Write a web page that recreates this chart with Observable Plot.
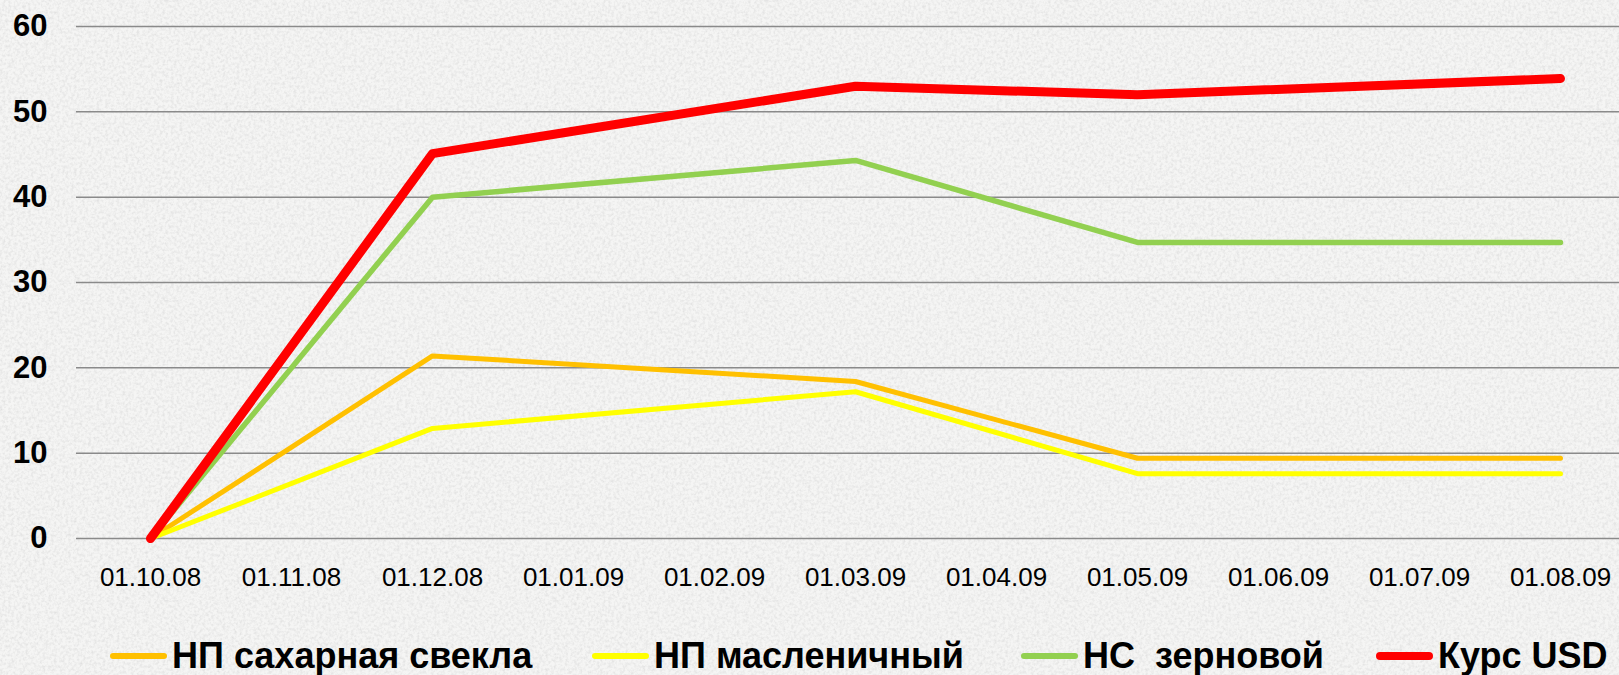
<!DOCTYPE html>
<html>
<head>
<meta charset="utf-8">
<script src="https://cdn.jsdelivr.net/npm/d3@7"></script>
<script src="https://cdn.jsdelivr.net/npm/@observablehq/plot@0.6"></script>
<style>
  html, body { margin: 0; padding: 0; }
  body {
    width: 1619px; height: 675px; overflow: hidden; position: relative;
    background-color: #e9e9e7;
    background-image: url("data:image/svg+xml;utf8,<svg xmlns='http://www.w3.org/2000/svg' width='300' height='300'><filter id='n'><feTurbulence type='fractalNoise' baseFrequency='0.35' numOctaves='3' stitchTiles='stitch'/><feColorMatrix type='matrix' values='0 0 0 0 0.55  0 0 0 0 0.55  0 0 0 0 0.55  0 0 0 1.3 -0.5'/></filter><rect width='300' height='300' fill='white' opacity='0.55'/><rect width='300' height='300' filter='url(%23n)' opacity='0.6'/></svg>");
    font-family: "Liberation Sans", Arial, sans-serif;
  }
  #chart { position: absolute; left: 0; top: 0; }
  #chart svg { background: transparent !important; }
  .legend-item { position: absolute; top: 636px; display: flex; align-items: center; height: 40px; }
  .legend-item .sw { width: 57px; border-radius: 4px; margin-right: 5px; }
  .legend-item span { font-size: 36px; font-weight: bold; color: #000; white-space: pre; line-height: 40px; }
</style>
</head>
<body>
<div id="chart"></div>
<div id="legend"></div>
<script>
// x-axis tick labels (category axis)
const tickLabels = ["01.10.08","01.11.08","01.12.08","01.01.09","01.02.09","01.03.09","01.04.09","01.05.09","01.06.09","01.07.09","01.08.09"];
// dates where values exist
const dates = ["01.10.08","01.12.08","01.03.09","01.05.09","01.08.09"];
// series values
const sugarBeet = [0, 21.4, 18.4, 9.4, 9.4];   // НП сахарная свекла
const oilseed   = [0, 12.9, 17.2, 7.6, 7.6];   // НП масленичный
const grain     = [0, 40.0, 44.3, 34.7, 34.7]; // НС  зерновой
const usd       = [0, 45.1, 53.0, 52.0, 53.9]; // Курс USD
const yTicks = [0, 10, 20, 30, 40, 50, 60];

const seriesNames = ["НП сахарная свекла", "НП масленичный", "НС  зерновой", "Курс USD"];
const seriesValues = [sugarBeet, oilseed, grain, usd];
const seriesColors = ["#FFC000", "#FFFF00", "#92D050", "#FF0000"];
const seriesWidths = [5, 5, 5.5, 9];
const legendLeft = [110, 592, 1021, 1376];

const rows = seriesNames.flatMap((name, i) =>
  dates.map((d, j) => ({series: name, date: d, value: seriesValues[i][j]}))
);

const marks = [
  Plot.ruleY(yTicks, {stroke: "#8a8a8a", strokeWidth: 1.5}),
  Plot.axisY({ticks: yTicks, tickSize: 0, tickPadding: 29, fontSize: 31, fontWeight: "bold", fill: "#000", label: null}),
  Plot.axisX({tickSize: 0, tickPadding: 29, fontSize: 26, fill: "#000", label: null})
];
seriesNames.forEach((name, i) => {
  marks.push(Plot.line(rows.filter(r => r.series === name), {
    x: "date", y: "value",
    stroke: seriesColors[i], strokeWidth: seriesWidths[i],
    strokeLinecap: "round", strokeLinejoin: "round"
  }));
});

const chart = Plot.plot({
  width: 1619,
  height: 610,
  marginLeft: 76,
  marginRight: 0,
  marginTop: 26,
  marginBottom: 72,
  style: {background: "transparent", fontFamily: "'Liberation Sans', Arial, sans-serif", color: "#000"},
  x: {type: "point", domain: tickLabels, range: [147, 1563], padding: 0, label: null},
  y: {domain: [0, 60], label: null},
  marks
});
document.getElementById("chart").appendChild(chart);

const legend = document.getElementById("legend");
seriesNames.forEach((name, i) => {
  const item = document.createElement("div");
  item.className = "legend-item";
  item.style.left = legendLeft[i] + "px";
  const sw = document.createElement("div");
  sw.className = "sw";
  sw.style.background = seriesColors[i];
  sw.style.height = (i === 3 ? 8 : 6) + "px";
  const t = document.createElement("span");
  t.textContent = name;
  item.appendChild(sw);
  item.appendChild(t);
  legend.appendChild(item);
});
</script>
</body>
</html>
